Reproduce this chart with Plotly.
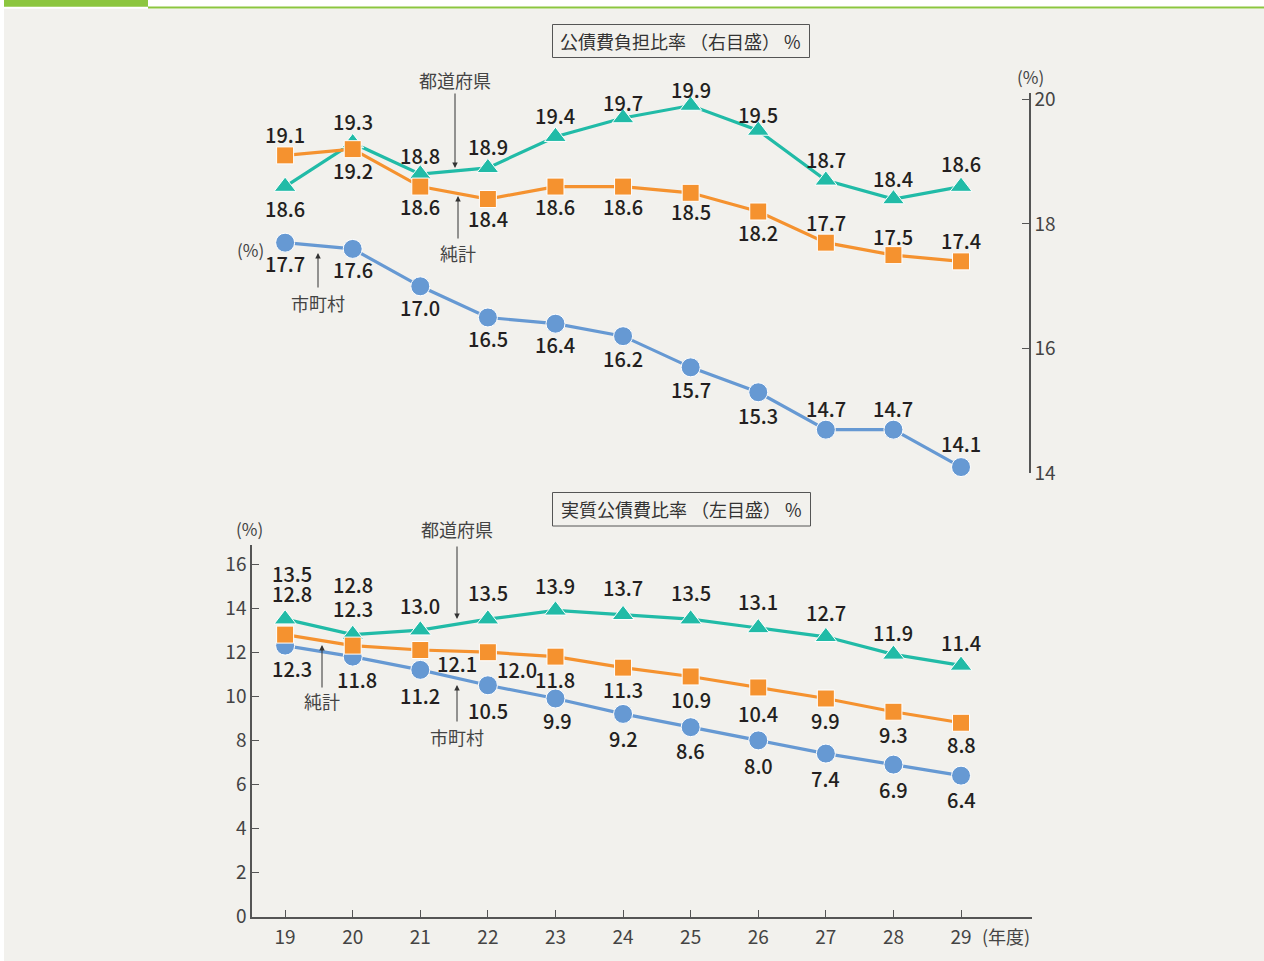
import plotly.graph_objects as go

# Fiscal years (Heisei)
years = [19, 20, 21, 22, 23, 24, 25, 26, 27, 28, 29]

# 公債費負担比率 (right scale, %)
burden_pref = [18.6, 19.3, 18.8, 18.9, 19.4, 19.7, 19.9, 19.5, 18.7, 18.4, 18.6]
burden_net = [19.1, 19.2, 18.6, 18.4, 18.6, 18.6, 18.5, 18.2, 17.7, 17.5, 17.4]
burden_muni = [17.7, 17.6, 17.0, 16.5, 16.4, 16.2, 15.7, 15.3, 14.7, 14.7, 14.1]

# 実質公債費比率 (left scale, %)
real_pref = [13.5, 12.8, 13.0, 13.5, 13.9, 13.7, 13.5, 13.1, 12.7, 11.9, 11.4]
real_net = [12.8, 12.3, 12.1, 12.0, 11.8, 11.3, 10.9, 10.4, 9.9, 9.3, 8.8]
real_muni = [12.3, 11.8, 11.2, 10.5, 9.9, 9.2, 8.6, 8.0, 7.4, 6.9, 6.4]

top_ticks = [14, 16, 18, 20]
bottom_ticks = [0, 2, 4, 6, 8, 10, 12, 14, 16]

W, H = 1264, 961
FONT = "Noto Sans CJK JP"
LABEL_FONT = "Noto Sans CJK JP Medium, Noto Sans CJK JP"
TEAL = "#21bba7"
ORANGE = "#f5922f"
BLUE = "#6699d3"
BG = "#f2f1ed"
GREEN = "#8cc63f"
AXIS = "#555555"
TXT = "#231f20"


def fx(px):
    return px / W


def fy(py):
    return 1 - py / H


fig = go.Figure()

# label placement (pixel shift of each value label from its point; + = up)
lab_top_pref = [-22, 21, 19, 21, 21, 16, 16, 16, 21, 21, 23]
lab_top_net = [21, -21, -20, -19, -20, -20, -19, -21, 20, 19, 21]
lab_top_muni = [-21, -21, -21, -21, -21, -22, -22, -23, 21, 21, 24]
lab_bot_pref = [46, 50, 25, 27, 25, 27, 27, 26, 24, 22, 23]
lab_bot_net = [41, 37, -13, -17, -23, -22, -23, -26, -22, -23, -22]
lab_bot_muni = [-23, -23, -26, -25, -22, -25, -23, -25, -25, -25, -24]
xs_bot_pref = [7] + [0] * 10
xs_bot_net = [7, 0, 37, 29, 0, 0, 0, 0, 0, 0, 0]
xs_bot_muni = [7, 4, 0, 0, 2, 0, 0, 0, 0, 0, 0]
xs_zero = [0] * 11

series = [
    # (values, color, symbol, size, xaxis, yaxis, yshifts, xshifts)
    (burden_muni, BLUE, "circle", 19, "x2", "y2", lab_top_muni, xs_zero),
    (burden_pref, TEAL, "triangle-up", 19, "x2", "y2", lab_top_pref, xs_zero),
    (burden_net, ORANGE, "square", 17, "x2", "y2", lab_top_net, xs_zero),
    (real_muni, BLUE, "circle", 19, "x", "y", lab_bot_muni, xs_bot_muni),
    (real_pref, TEAL, "triangle-up", 19, "x", "y", lab_bot_pref, xs_bot_pref),
    (real_net, ORANGE, "square", 17, "x", "y", lab_bot_net, xs_bot_net),
]

annotations = []
for vals, color, sym, size, xa, ya, ysh, xsh in series:
    fig.add_trace(go.Scatter(
        x=years, y=vals, xaxis=xa, yaxis=ya, mode="lines+markers",
        line=dict(color=color, width=3.2),
        marker=dict(symbol=sym, size=size, color=color,
                    line=dict(color="white", width=1)),
        hoverinfo="skip", showlegend=False, cliponaxis=False,
    ))
    for xv, v, dy, dx in zip(years, vals, ysh, xsh):
        annotations.append(dict(
            x=xv, y=v, xref=xa, yref=ya, text=f"{v:.1f}", showarrow=False,
            yshift=dy, xshift=dx,
            font=dict(family=LABEL_FONT, size=20, color=TXT),
        ))


def note(text, x, y, size=18, color="#444444"):
    annotations.append(dict(
        x=fx(x), y=fy(y), xref="paper", yref="paper", text=text,
        showarrow=False, xanchor="center", yanchor="middle",
        font=dict(family=FONT, size=size, color=color),
    ))


def arrow(x, y_tail, y_head):
    annotations.append(dict(
        x=fx(x), y=fy(y_head), xref="paper", yref="paper", text="",
        showarrow=True, ax=0, ay=y_tail - y_head, axref="pixel", ayref="pixel",
        arrowhead=2, arrowsize=1.1, arrowwidth=1, arrowcolor="#333333",
        standoff=0, startstandoff=0,
    ))


# series name callouts
note("都道府県", 455, 80)
arrow(455, 92, 168)
note("純計", 458, 253)
arrow(458, 240, 196)
note("市町村", 318, 303)
arrow(318, 289, 253)

note("都道府県", 457, 529)
arrow(457, 545, 619)
note("純計", 322, 701)
arrow(322, 689, 645)
note("市町村", 457, 737)
arrow(457, 723, 685)

# unit labels
note("(%)", 1030, 77, size=17)
note("(%)", 250, 250, size=17)
note("(%)", 249, 528, size=17)
note("(年度)", 1006, 936, size=18)

# panel titles
note("公債費負担比率 （右目盛） %", 680.5, 40.5, size=18, color="#333333")
note("実質公債費比率 （左目盛） %", 681, 509, size=18, color="#333333")

shapes = [
    dict(type="rect", xref="paper", yref="paper", x0=fx(4), x1=1, y0=0, y1=fy(8.8),
         fillcolor=BG, line=dict(width=0), layer="below"),
    dict(type="rect", xref="paper", yref="paper", x0=fx(4), x1=fx(148), y0=fy(6.8), y1=1,
         fillcolor=GREEN, line=dict(width=0), layer="below"),
    dict(type="rect", xref="paper", yref="paper", x0=fx(148), x1=1, y0=fy(8.6), y1=fy(6.6),
         fillcolor=GREEN, line=dict(width=0), layer="below"),
    dict(type="rect", xref="paper", yref="paper", x0=fx(552.5), x1=fx(809.5), y0=fy(57.5), y1=fy(24.5),
         fillcolor="rgba(0,0,0,0)", line=dict(color="#555555", width=1)),
    dict(type="rect", xref="paper", yref="paper", x0=fx(552.5), x1=fx(810.5), y0=fy(526), y1=fy(492.5),
         fillcolor="rgba(0,0,0,0)", line=dict(color="#555555", width=1)),
]

xdom = [fx(252), fx(1032)]
xrange_ = [18.51, 30.05]
tickfont = dict(family=FONT, size=19, color="#444444")

fig.update_layout(
    width=W, height=H, margin=dict(l=0, r=0, t=0, b=0, autoexpand=False),
    paper_bgcolor="white", plot_bgcolor="rgba(0,0,0,0)",
    showlegend=False, annotations=annotations, shapes=shapes,
    xaxis=dict(domain=xdom, range=xrange_, anchor="y", tickvals=years,
               ticks="inside", ticklen=7, tickwidth=1, tickcolor=AXIS,
               showline=True, linecolor=AXIS, linewidth=1.5, showgrid=False,
               zeroline=False, tickfont=tickfont, ticklabelstandoff=3),
    yaxis=dict(domain=[fy(916.7), fy(545)], range=[0, (916.7 - 545) / 22.04],
               anchor="x", tickvals=bottom_ticks, ticks="inside", ticklen=7,
               tickwidth=1, tickcolor=AXIS, showline=True, linecolor=AXIS,
               linewidth=1.5, showgrid=False, zeroline=False, tickfont=tickfont),
    xaxis2=dict(domain=xdom, range=xrange_, anchor="y2", visible=False),
    yaxis2=dict(domain=[fy(473.3), fy(93)], range=[14, 20 + (99.3 - 93) / 62.33],
                anchor="free", position=fx(1030), side="right",
                tickvals=top_ticks, ticks="inside", ticklen=7, tickwidth=1,
                tickcolor=AXIS, showline=True, linecolor=AXIS, linewidth=1.5,
                showgrid=False, zeroline=False, tickfont=tickfont),
)

# page body without default margins so the figure fills the window exactly
fig.write_html(
    "out.html",
    post_script="document.body.style.margin='0';"
                "document.documentElement.style.overflow='hidden';",
)
